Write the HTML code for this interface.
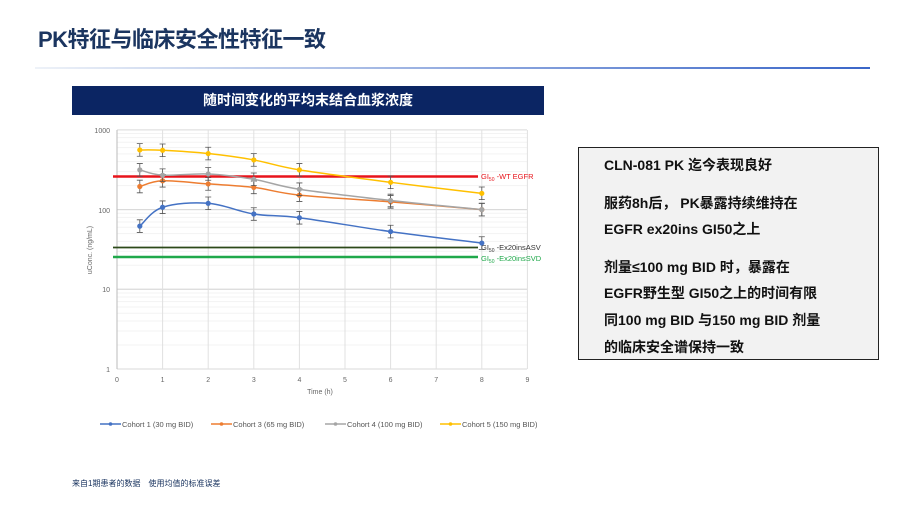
<!DOCTYPE html>
<html><head><meta charset="utf-8"><style>
body{margin:0;width:907px;height:510px;background:#fff;position:relative;overflow:hidden;font-family:"Liberation Sans","Noto Sans CJK SC",sans-serif}
.t{position:absolute;left:38px;top:22px;font-size:22px;font-weight:bold;color:#1b3560;letter-spacing:-0.5px}
.ln{position:absolute;left:35px;top:67px;width:835px;height:2px;background:linear-gradient(90deg,#eef2f8,#3a66c8)}
.bn{position:absolute;left:72px;top:86px;width:472px;height:29px;background:#0b2563;color:#fff;font-size:14px;font-weight:bold;text-align:center;line-height:29px}
.bx{position:absolute;left:578px;top:147px;width:299px;height:211px;background:#f2f2f2;border:1.5px solid #222}
.bx div{position:absolute;left:25px;font-size:14px;font-weight:bold;color:#111;white-space:nowrap}
.ft{position:absolute;left:72px;top:478px;font-size:8px;color:#1b3560}
svg{position:absolute;left:0;top:0}
</style></head><body>
<div class="t">PK特征与临床安全性特征一致</div>
<div class="ln"></div>
<div class="bn">随时间变化的平均末结合血浆浓度</div>
<svg id="s" width="907" height="510" font-family="Liberation Sans, sans-serif"></svg>
<div class="bx">
<div style="top:7px">CLN-081 PK 迄今表现良好</div>
<div style="top:45px">服药8h后， PK暴露持续维持在</div>
<div style="top:71px">EGFR ex20ins GI50之上</div>
<div style="top:109px">剂量≤100 mg BID 时，暴露在</div>
<div style="top:135px">EGFR野生型 GI50之上的时间有限</div>
<div style="top:162px">同100 mg BID 与150 mg BID 剂量</div>
<div style="top:189px">的临床安全谱保持一致</div>
</div>
<div class="ft">来自1期患者的数据　使用均值的标准误差</div>
<script>
var s=document.getElementById('s'),h='';
function X(t){return 117+45.6*t}
function Y(v){return 369-79.7*Math.log10(v)}
for(var d=0;d<3;d++)for(var k=1;k<=10;k++){var y=Y(Math.pow(10,d)*k);h+='<line x1="117" x2="527" y1="'+y+'" y2="'+y+'" stroke="'+(k==10||k==1?'#d9d9d9':'#f3f3f3')+'" stroke-width="1"/>';}
for(var i=0;i<=9;i++){h+='<line x1="'+X(i)+'" x2="'+X(i)+'" y1="130" y2="369" stroke="'+(i==0?'#bbb':'#e0e0e0')+'"/>';h+='<text x="'+X(i)+'" y="382" font-size="7" fill="#666" text-anchor="middle">'+i+'</text>';}
[[1000,130],[100,210],[10,289],[1,369]].forEach(function(a){h+='<text x="110" y="'+(a[1]+3)+'" font-size="7" fill="#666" text-anchor="end">'+a[0]+'</text>'});
h+='<text x="320" y="394" font-size="7" fill="#666" text-anchor="middle">Time (h)</text>';
h+='<text transform="translate(92,250) rotate(-90)" font-size="7" fill="#666" text-anchor="middle">uConc. (ng/mL)</text>';
h+='<line x1="113" x2="478" y1="176.5" y2="176.5" stroke="#e8141b" stroke-width="2.5"/>';
h+='<line x1="113" x2="478" y1="247.5" y2="247.5" stroke="#2d4a1a" stroke-width="1.8"/>';
h+='<line x1="113" x2="478" y1="257" y2="257" stroke="#1fa84a" stroke-width="2.5"/>';
h+='<text x="481" y="179" font-size="7.5" fill="#e8141b">GI<tspan font-size="5" dy="2">50</tspan><tspan dy="-2"> -WT EGFR</tspan></text>';
h+='<text x="481" y="250" font-size="7.5" fill="#333">GI<tspan font-size="5" dy="2">50</tspan><tspan dy="-2"> -Ex20insASV</tspan></text>';
h+='<text x="481" y="261" font-size="7.5" fill="#1fa84a">GI<tspan font-size="5" dy="2">50</tspan><tspan dy="-2"> -Ex20insSVD</tspan></text>';
var T=[0.5,1,2,3,4,6,8];
var S=[["#4472c4",[62,107,120,88,79,53,38]],["#ed7d31",[195,230,210,190,152,125,100]],["#a5a5a5",[315,270,280,240,180,130,100]],["#ffc000",[560,555,505,420,315,220,160]]];
function smooth(P){var d='M'+P[0][0]+','+P[0][1];for(var i=0;i<P.length-1;i++){var p0=P[i-1]||P[i],p1=P[i],p2=P[i+1],p3=P[i+2]||p2;var t=0.17;d+='C'+(p1[0]+(p2[0]-p0[0])*t)+','+(p1[1]+(p2[1]-p0[1])*t)+' '+(p2[0]-(p3[0]-p1[0])*t)+','+(p2[1]-(p3[1]-p1[1])*t)+' '+p2[0]+','+p2[1];}return d;}
S.forEach(function(sr){var P=sr[1].map(function(v,i){return [X(T[i]),Y(v)]});
sr[1].forEach(function(v,i){var x=X(T[i]),a=Y(v*1.2),b=Y(v/1.2);h+='<path d="M'+x+','+a+'V'+b+'M'+(x-3)+','+a+'h6M'+(x-3)+','+b+'h6" stroke="#555" stroke-width="0.8"/>'});
h+='<path d="'+smooth(P)+'" fill="none" stroke="'+sr[0]+'" stroke-width="1.5"/>';
P.forEach(function(p){h+='<circle cx="'+p[0]+'" cy="'+p[1]+'" r="2.6" fill="'+sr[0]+'"/>'});});
var L=["Cohort 1 (30 mg BID)","Cohort 3  (65 mg BID)","Cohort 4 (100 mg BID)","Cohort 5 (150 mg BID)"],lx=[100,211,325,440];
L.forEach(function(t,i){var x=lx[i];h+='<line x1="'+x+'" x2="'+(x+21)+'" y1="424" y2="424" stroke="'+S[i][0]+'" stroke-width="1.5"/><circle cx="'+(x+10.5)+'" cy="424" r="1.8" fill="'+S[i][0]+'"/><text x="'+(x+22)+'" y="427" font-size="7.5" fill="#555">'+t+'</text>'});
s.innerHTML=h;
</script>
</body></html>
